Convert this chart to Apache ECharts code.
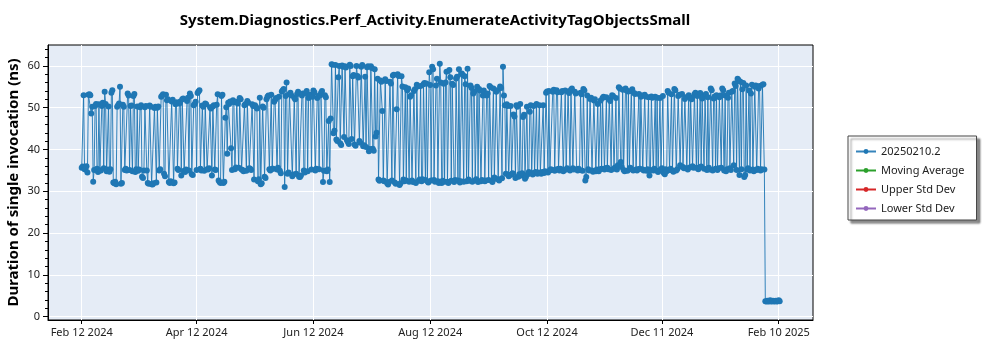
<!DOCTYPE html>
<html><head><meta charset="utf-8">
<script src="https://cdn.jsdelivr.net/npm/echarts@6/dist/echarts.min.js"></script>
<style>html,body{margin:0;padding:0;background:#fff}#c{width:1000px;height:350px}</style>
</head><body><div id="c"></div>
<script>
const chartTitle = 'System.Diagnostics.Perf_Activity.EnumerateActivityTagObjectsSmall';
const yAxisTitle = 'Duration of single invocation (ns)';
const seriesNames = ['20250210.2', 'Moving Average', 'Upper Std Dev', 'Lower Std Dev'];
const seriesColors = ['#1f77b4', '#2ca02c', '#d62728', '#9467bd'];
const firstDate = '2024-02-12';
const readingsPerDay = 2;
// two readings per day, starting at firstDate (each row = 10 days)
const durations = [
  35.6,35.9, 53.0,35.3, 35.2,36.0, 34.5,53.1, 53.2,53.0, 48.6,50.2, 32.3,35.1, 50.4,50.9, 35.4,34.6, 50.8,35.0,
  35.0,50.4, 51.2,35.5, 53.8,50.9, 34.8,35.2, 50.3,34.7, 35.3,53.6, 54.2,32.1, 31.9,32.3, 31.7,50.2, 50.6,51.0,
  55.0,31.8, 32.0,50.7, 50.2,35.1, 35.4,35.0, 53.4,52.9, 35.1,50.4, 50.5,34.8, 52.8,53.3, 34.6,35.3, 50.3,34.9,
  35.2,50.1, 50.6,33.5, 33.2,35.0, 50.1,50.4, 35.0,32.0, 31.8,50.5, 50.2,31.7, 31.6,31.9, 49.9,50.2, 32.1,50.0,
  50.3,35.0, 35.3,52.6, 52.9,53.2, 34.2,33.6, 53.1,51.8, 52.0,32.2, 32.0,32.4, 51.5,51.9, 31.9,32.1, 50.8,51.3,
  35.4,35.1, 51.0,51.5, 33.8,52.0, 52.2,34.9, 34.6,35.2, 51.6,52.4, 35.0,53.4, 52.8,34.1, 33.9,50.6, 50.9,51.4,
  35.1,53.5, 53.9,54.2, 35.4,35.0, 50.5,50.2, 34.9,51.0, 50.8,35.3, 35.2,35.5, 50.1,49.8, 33.8,50.3, 50.6,35.2,
  35.1,50.7, 53.2,32.6, 32.2,32.0, 52.8,53.1, 32.0,32.3, 47.6,50.1, 39.0,51.2, 50.9,51.5, 40.3,35.1, 51.8,51.3,
  35.3,35.7, 51.4,51.0, 35.6,52.3, 52.0,35.2, 35.1,34.8, 50.6,50.9, 34.9,51.6, 51.2,35.5, 35.4,35.1, 50.8,50.4,
  32.8,50.6, 50.2,49.8, 32.4,32.9, 52.4,31.7, 31.9,50.3, 50.0,33.5, 33.2,52.0, 52.6,52.9, 35.3,35.0, 53.1,35.4,
  35.4,51.4, 51.9,52.3, 35.2,35.6, 52.6,34.9, 34.3,53.9, 54.2,54.5, 31.0,52.8, 56.0,34.2, 34.5,53.2, 53.6,52.9,
  33.6,34.0, 52.4,52.0, 34.2,53.3, 53.8,33.5, 33.4,33.8, 52.9,53.4, 35.0,34.5, 53.5,54.0, 34.8,52.3, 52.7,53.1,
  35.2,52.6, 54.1,53.7, 35.0,35.4, 52.3,52.8, 35.3,53.0, 53.6,54.0, 32.2,34.9, 53.0,52.5, 34.8,35.2, 46.8,32.2,
  47.4,60.4, 60.3,43.9, 44.5,60.2, 42.4,42.0, 57.3,60.0, 41.5,41.1, 60.1,59.8, 43.0,59.9, 59.6,42.2, 41.8,41.3,
  60.3,60.0, 42.5,57.5, 57.8,41.2, 40.9,60.0, 57.6,57.2, 42.0,41.6, 59.8,60.2, 40.8,41.0, 57.4,40.6, 59.7,59.9,
  39.6,40.1, 59.9,59.5, 40.2,39.7, 59.2,43.1, 44.0,56.9, 32.8,32.5, 56.5,56.2, 49.2,32.6, 32.4,56.8, 56.4,31.9,
  31.6,32.2, 56.2,55.8, 32.6,57.7, 57.9,32.1, 31.8,49.6, 58.0,57.6, 31.5,31.9, 57.5,55.1, 32.8,32.4, 54.9,32.6,
  54.2,54.6, 32.3,52.6, 53.0,32.6, 32.2,54.0, 54.4,32.0, 55.5,55.1, 32.5,32.8, 55.2,32.4, 32.9,55.6, 55.9,32.7,
  55.8,32.4, 32.1,58.5, 55.4,32.6, 59.8,59.2, 32.7,32.3, 55.3,56.9, 32.4,32.0, 60.5,56.0, 32.0,32.5, 55.7,32.3,
  56.0,58.6, 32.3,32.0, 59.0,57.3, 32.5,55.7, 55.4,32.2, 32.7,57.0, 57.4,32.6, 59.2,32.1, 32.4,58.2, 57.8,32.3,
  57.5,55.6, 32.4,59.3, 32.8,32.5, 55.3,54.8, 32.3,53.4, 53.9,32.6, 32.9,55.0, 32.2,54.5, 54.1,32.4, 32.7,52.9,
  54.1,32.4, 32.6,52.9, 53.4,32.7, 55.2,54.9, 32.5,32.2, 54.6,33.3, 33.0,53.8, 54.2,32.9, 32.6,55.1, 54.7,33.1,
  59.8,52.9, 50.6,34.2, 50.8,50.4, 33.6,33.9, 50.4,34.0, 34.3,48.4, 47.9,33.2, 50.6,50.2, 33.5,34.1, 50.9,33.8,
  34.3,47.8, 48.3,33.0, 33.4,50.2, 34.1,34.6, 49.0,50.6, 34.4,34.0, 50.4,34.3, 34.6,50.9, 34.2,34.5, 50.6,34.4,
  34.2,34.6, 50.6,34.4, 34.8,53.6, 53.9,34.5, 54.0,35.0, 35.3,35.1, 53.8,54.3, 34.9,35.2, 54.2,53.7, 35.4,35.0,
  35.4,53.7, 54.0,34.8, 35.1,54.1, 35.2,35.5, 53.9,53.5, 35.0,54.3, 54.6,35.5, 35.2,53.8, 53.4,35.3, 35.0,35.4,
  35.1,53.6, 53.2,34.9, 54.5,54.1, 32.6,33.4, 52.9,35.3, 35.0,52.1, 52.4,35.0, 34.7,51.7, 52.0,34.8, 35.2,50.9,
  34.8,35.2, 51.7,35.4, 52.3,52.6, 35.2,35.5, 52.5,35.6, 35.3,52.0, 51.6,35.1, 53.0,52.8, 35.4,35.7, 52.3,35.2,
  36.2,54.9, 54.6,37.0, 35.8,54.3, 35.1,34.8, 54.6,54.1, 34.9,53.9, 35.3,35.6, 54.0,54.4, 35.0,53.5, 53.3,35.2,
  35.0,35.3, 53.3,35.4, 52.6,52.9, 35.2,35.0, 53.1,52.7, 34.9,35.3, 52.5,33.8, 35.1,52.7, 52.4,35.0, 35.4,52.6,
  35.0,52.4, 34.6,34.9, 52.3,35.2, 35.5,52.8, 34.4,34.1, 35.3,34.8, 54.0,53.6, 35.1,35.4, 53.2,35.0, 34.7,54.5,
  54.2,35.0, 35.3,52.8, 53.1,36.2, 35.9,53.3, 35.8,35.5, 52.1,52.5, 35.5,35.2, 53.0,35.7, 52.4,52.0, 36.0,35.6,
  53.2,53.6, 35.6,52.8, 35.3,35.7, 53.5,35.9, 52.2,52.6, 35.4,53.0, 53.3,35.1, 52.5,35.6, 35.2,54.6, 54.2,35.0,
  52.2,52.7, 35.4,53.0, 35.1,35.5, 52.5,52.9, 35.6,54.6, 54.2,35.0, 52.9,34.8, 35.3,52.4, 53.6,35.5, 35.1,53.8,
  54.0,36.2, 55.8,55.2, 35.1,56.9, 56.6,33.9, 56.2,35.3, 54.4,55.9, 33.4,33.9, 55.3,35.2, 35.5,54.1, 35.0,53.4,
  55.5,35.2, 34.8,55.0, 55.3,35.1, 35.4,54.6, 55.2,35.0, 35.3,55.5, 55.6,35.2,
  3.7,3.6, 3.8,3.6, 3.7,3.9, 3.6,3.7, 3.8,3.6, 3.7,3.8, 3.6,3.7, 3.9,3.7
];
const movingAverage = [];
const upperStdDev = [];
const lowerStdDev = [];
const xTickDates = ['2024-02-12', '2024-04-12', '2024-06-12', '2024-08-12', '2024-10-12', '2024-12-11', '2025-02-10'];
const xTickLabels = ['Feb 12 2024', 'Apr 12 2024', 'Jun 12 2024', 'Aug 12 2024', 'Oct 12 2024', 'Dec 11 2024', 'Feb 10 2025'];
const yTickValues = [0, 10, 20, 30, 40, 50, 60];

// x coordinate = days since firstDate
function dayIndex(s) {
  const p = s.split('-').map(Number), q = firstDate.split('-').map(Number);
  return Math.round((Date.UTC(p[0], p[1] - 1, p[2]) - Date.UTC(q[0], q[1] - 1, q[2])) / 86400000);
}
const tickDays = xTickDates.map(dayIndex);
const labelByDay = {};
tickDays.forEach((d, i) => { labelByDay[d] = xTickLabels[i]; });
const mainData = durations.map((v, i) => [i / readingsPerDay, v]);
const xMin = tickDays[0] - 17.6;
const xMax = tickDays[tickDays.length - 1] + 17.9;
const FONT = 'Noto Sans';

const chart = echarts.init(document.getElementById('c'), null, { renderer: 'canvas' });
chart.setOption({
  animation: false,
  backgroundColor: '#fff',
  title: {
    text: chartTitle, left: 430, top: 8, textAlign: 'center',
    textStyle: { fontFamily: FONT, fontSize: 15, fontWeight: 'bold', color: '#000' }
  },
  grid: {
    left: 48, right: 187, top: 45, bottom: 30, show: true,
    outerBoundsMode: 'none', containLabel: false,
    backgroundColor: '#e5ecf6', borderColor: '#000', borderWidth: 1
  },
  legend: {
    orient: 'vertical', left: 848, top: 136,
    padding: [10, 12, 6, 7], itemWidth: 20, itemHeight: 6, itemGap: 8,
    backgroundColor: '#fff', borderColor: '#444', borderWidth: 1,
    shadowColor: 'rgba(0,0,0,0.45)', shadowBlur: 2, shadowOffsetX: 3, shadowOffsetY: 3,
    textStyle: { fontFamily: FONT, fontSize: 11, color: '#222' },
    data: seriesNames
  },
  xAxis: {
    type: 'value', min: xMin, max: xMax,
    axisLine: { show: true, onZero: false, lineStyle: { color: '#000' } },
    axisTick: { show: true, inside: false, length: 4, customValues: tickDays, lineStyle: { color: '#000' } },
    axisLabel: {
      customValues: tickDays, margin: 7, fontFamily: FONT, fontSize: 11, color: '#222',
      formatter: v => labelByDay[Math.round(v)] || ''
    },
    splitLine: { show: true, lineStyle: { color: '#fff', width: 1 } }
  },
  yAxis: {
    type: 'value', min: -0.8, max: 65,
    name: yAxisTitle, nameLocation: 'middle', nameGap: 27, nameMoveOverlap: false,
    nameTextStyle: { fontFamily: FONT, fontSize: 15, fontWeight: 'bold', color: '#000' },
    axisLine: { show: true, onZero: false, lineStyle: { color: '#000' } },
    axisTick: { show: true, inside: false, length: 5, customValues: yTickValues, lineStyle: { color: '#000' } },
    minorTick: { show: true, splitNumber: 5, length: 3, lineStyle: { color: '#000' } },
    axisLabel: { customValues: yTickValues, margin: 8, fontFamily: FONT, fontSize: 11, color: '#222' },
    splitLine: { show: true, lineStyle: { color: '#fff', width: 1 } }
  },
  series: [
    {
      name: seriesNames[0], type: 'line', data: mainData, color: seriesColors[0],
      symbol: 'circle', symbolSize: 6, showSymbol: true, showAllSymbol: true,
      lineStyle: { width: 1, color: seriesColors[0], opacity: 0.9 },
      itemStyle: { color: seriesColors[0] }
    },
    { name: seriesNames[1], type: 'line', data: movingAverage, color: seriesColors[1], symbol: 'circle', symbolSize: 6, lineStyle: { width: 1 } },
    { name: seriesNames[2], type: 'line', data: upperStdDev, color: seriesColors[2], symbol: 'circle', symbolSize: 6, lineStyle: { width: 1 } },
    { name: seriesNames[3], type: 'line', data: lowerStdDev, color: seriesColors[3], symbol: 'circle', symbolSize: 6, lineStyle: { width: 1 } }
  ]
});
</script>
</body></html>
